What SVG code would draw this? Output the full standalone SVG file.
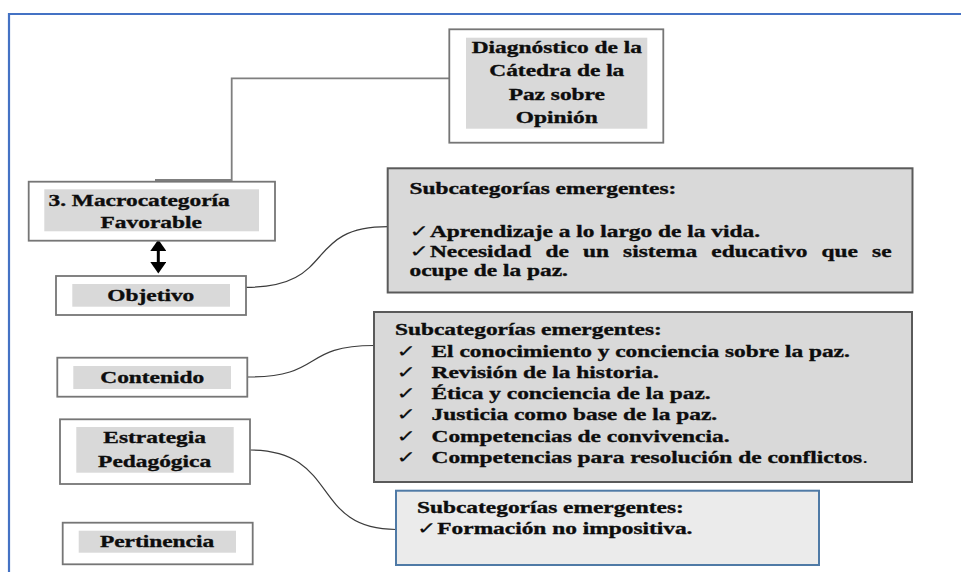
<svg xmlns="http://www.w3.org/2000/svg" width="961" height="572" viewBox="0 0 961 572">
<style>
.frame{fill:none;stroke:#4472c4;stroke-width:2.2}
.box{fill:#fff;stroke:#767676;stroke-width:1.8}
.hl{fill:#d9d9d9}
.sub{fill:#d9d9d9;stroke:#5a5a5a;stroke-width:2}
.sub2{fill:#ebebeb;stroke:#4f7aa6;stroke-width:2}
.t{font-family:'Liberation Serif','Times New Roman',Times,serif;font-weight:bold;font-size:17.2px;fill:#0d0d0d;stroke:#0d0d0d;stroke-width:0.35}
.ck{font-family:'DejaVu Sans',sans-serif;font-weight:normal;font-size:17px;stroke-width:0.2}
.elbow{fill:none;stroke:#7f7f7f;stroke-width:1.8}
.curve{fill:none;stroke:#3c3c3c;stroke-width:1.2}
.arrow{stroke:#000;stroke-width:3}
</style>
<defs>
<marker id="ah" viewBox="0 0 11.5 16" refX="0" refY="8" markerWidth="11.5" markerHeight="16" markerUnits="userSpaceOnUse" orient="auto-start-reverse"><path d="M0,0 L11.5,8 L0,16 z" fill="#000"/></marker>
</defs>
<path class="frame" d="M9,572 V14 H961"/>
<g id="connectors">
<path class="elbow" d="M449.3,78.3 H231.7 V180 H155"/>
<line class="arrow" x1="158.3" y1="251" x2="158.3" y2="262" marker-start="url(#ah)" marker-end="url(#ah)"/>
<path class="curve" d="M246,287.3 C338,287.3 302,226.7 388,226.7"/>
<path class="curve" d="M247.3,377 C325,377 300,345.5 374,345.5"/>
<path class="curve" d="M250,450 C340,450 310,529.5 396,529.5"/>
</g>
<g id="diagnostico">
<rect class="box" x="449.3" y="29.3" width="214" height="113.4"/>
<rect class="hl" x="466" y="37.7" width="181.3" height="91"/>
<text class="t" text-anchor="middle" transform="translate(556.8,0) scale(1.36,1)"><tspan x="0" y="53">Diagnóstico de la</tspan><tspan x="0" y="76.3">Cátedra de la</tspan><tspan x="0" y="99.6">Paz sobre</tspan><tspan x="0" y="122.6">Opinión</tspan></text>
</g>
<g id="macrocategoria">
<rect class="box" x="28.7" y="181.7" width="246.3" height="59"/>
<rect class="hl" x="44.3" y="189.3" width="214.7" height="42"/>
<text class="t" transform="translate(48.5,205.8) scale(1.36,1)">3. Macrocategoría</text>
<text class="t" text-anchor="middle" transform="translate(151.2,227.8) scale(1.36,1)">Favorable</text>
</g>
<g id="objetivo">
<rect class="box" x="56" y="276" width="190" height="39"/>
<rect class="hl" x="72.3" y="284" width="157.7" height="22.7"/>
<text class="t" text-anchor="middle" transform="translate(150.8,301) scale(1.36,1)">Objetivo</text>
</g>
<g id="contenido">
<rect class="box" x="57.3" y="357.7" width="190" height="39"/>
<rect class="hl" x="73.3" y="366" width="157.7" height="23"/>
<text class="t" text-anchor="middle" transform="translate(152.2,383) scale(1.36,1)">Contenido</text>
</g>
<g id="estrategia">
<rect class="box" x="60" y="419.3" width="190" height="64.7"/>
<rect class="hl" x="76.3" y="427" width="157.4" height="45.7"/>
<text class="t" text-anchor="middle" transform="translate(154.6,0) scale(1.36,1)"><tspan x="0" y="443.3">Estrategia</tspan><tspan x="0" y="467">Pedagógica</tspan></text>
</g>
<g id="pertinencia">
<rect class="box" x="62.7" y="522.7" width="190" height="41.6"/>
<rect class="hl" x="78.7" y="530.7" width="157.3" height="22"/>
<text class="t" text-anchor="middle" transform="translate(157,547) scale(1.36,1)">Pertinencia</text>
</g>
<g id="sub-objetivo">
<rect class="sub" x="387.7" y="168.3" width="524.8" height="124.2"/>
<text class="t" transform="translate(409.5,194) scale(1.36,1)">Subcategorías emergentes:</text>
<text class="t" transform="translate(409.5,237) scale(1.36,1)"><tspan class="ck" x="0">✓</tspan><tspan x="15.07">Aprendizaje a lo largo de la vida.</tspan></text>
<text class="t" transform="translate(409.5,256.5) scale(1.36,1)"><tspan class="ck" x="0">✓</tspan><tspan x="15.07">Necesidad</tspan><tspan x="100">de</tspan><tspan x="127.57">un</tspan><tspan x="157.06">sistema</tspan><tspan x="221.91">educativo</tspan><tspan x="303.01">que</tspan><tspan x="340.15">se</tspan></text>
<text class="t" transform="translate(409.5,276) scale(1.36,1)">ocupe de la paz.</text>
</g>
<g id="sub-contenido">
<rect class="sub" x="374" y="312" width="538" height="170"/>
<text class="t" transform="translate(395,335) scale(1.36,1)">Subcategorías emergentes:</text>
<text class="t" transform="translate(396.5,0) scale(1.36,1)">
<tspan class="ck" x="0" y="356.7">✓</tspan><tspan x="25.74" y="356.7">El conocimiento y conciencia sobre la paz.</tspan>
<tspan class="ck" x="0" y="378.3">✓</tspan><tspan x="25.74" y="378.3">Revisión de la historia.</tspan>
<tspan class="ck" x="0" y="399.3">✓</tspan><tspan x="25.74" y="399.3">Ética y conciencia de la paz.</tspan>
<tspan class="ck" x="0" y="420.5">✓</tspan><tspan x="25.74" y="420.5">Justicia como base de la paz.</tspan>
<tspan class="ck" x="0" y="441.7">✓</tspan><tspan x="25.74" y="441.7">Competencias de convivencia.</tspan>
<tspan class="ck" x="0" y="463.3">✓</tspan><tspan x="25.74" y="463.3">Competencias para resolución de conflictos</tspan><tspan font-weight="normal" stroke-width="0">.</tspan>
</text>
</g>
<g id="sub-estrategia">
<rect class="sub2" x="396" y="490.7" width="423" height="74.3"/>
<text class="t" transform="translate(417,513) scale(1.36,1)">Subcategorías emergentes:</text>
<text class="t" transform="translate(417,534) scale(1.36,1)"><tspan class="ck" x="0">✓</tspan><tspan x="14.93">Formación no impositiva.</tspan></text>
</g>
</svg>
